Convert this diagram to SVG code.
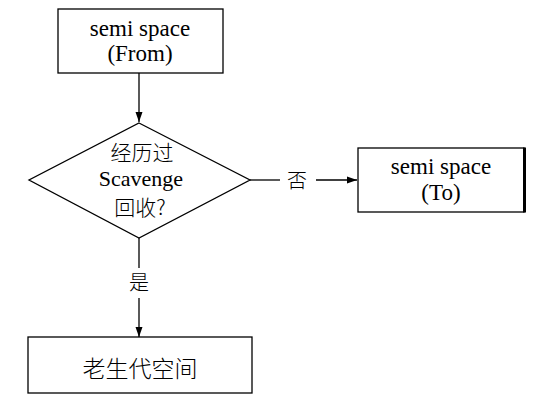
<svg xmlns="http://www.w3.org/2000/svg" width="535" height="413" viewBox="0 0 535 413">
<style>
.box{fill:#fff;stroke:#000;stroke-width:1.3}
.t{font-family:"Liberation Serif","Noto Sans CJK SC",serif;font-size:23px;fill:#000;text-anchor:middle}
.c{font-family:"Noto Sans CJK SC","Liberation Serif",sans-serif;font-size:23px;fill:#000;text-anchor:middle;font-weight:300}
.ln{stroke:#000;stroke-width:1.3;fill:none}
</style>
<defs>
<marker id="ah" viewBox="0 0 10 10" refX="10" refY="5" markerWidth="10" markerHeight="10" markerUnits="userSpaceOnUse" orient="auto">
<path d="M0,1.5 L10,5 L0,8.5 Z" fill="#000"/>
</marker>
</defs>
<rect width="535" height="413" fill="#fff"/>
<g id="connectors">
<line class="ln" x1="139" y1="73" x2="139" y2="122" marker-end="url(#ah)"/>
<line class="ln" x1="250" y1="180" x2="280" y2="180"/>
<line class="ln" x1="316" y1="180" x2="357" y2="180" marker-end="url(#ah)"/>
<text class="c" x="297" y="188" style="font-size:20px">否</text>
<line class="ln" x1="139" y1="238" x2="139" y2="268"/>
<line class="ln" x1="139" y1="298" x2="139" y2="337" marker-end="url(#ah)"/>
<text class="c" x="139" y="290" style="font-size:20px">是</text>
</g>
<g id="from">
<rect class="box" x="58" y="9" width="165" height="64"/>
<text class="t" x="140" y="36">semi space</text>
<text class="t" x="140" y="61">(From)</text>
</g>
<g id="decision">
<polygon class="box" points="139,123 250,180 139,238 29,180"/>
<text class="c" x="142" y="160" style="font-size:21px">经历过</text>
<text class="t" x="141" y="186" style="font-size:22px">Scavenge</text>
<text class="c" x="140" y="215" style="font-size:21px">回收?</text>
</g>
<g id="to">
<rect class="box" x="358" y="148" width="166" height="64"/>
<line class="ln" x1="524.5" y1="147.5" x2="524.5" y2="212.5" style="stroke-width:3"/>
<text class="t" x="441" y="174">semi space</text>
<text class="t" x="441" y="200">(To)</text>
</g>
<g id="old">
<rect class="box" x="28" y="337" width="224" height="56"/>
<text class="c" x="140" y="377">老生代空间</text>
</g>
</svg>
